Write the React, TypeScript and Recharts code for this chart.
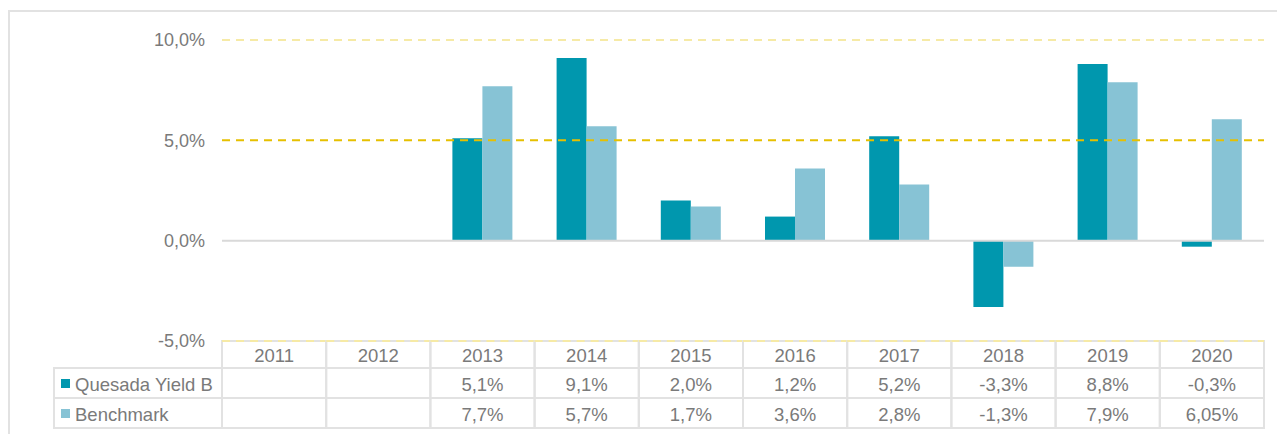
import React from "react";
import { ComposedChart, Bar, XAxis, YAxis, ReferenceLine } from "recharts";

const years = ["2011", "2012", "2013", "2014", "2015", "2016", "2017", "2018", "2019", "2020"];
const quesada: (number | null)[] = [null, null, 5.1, 9.1, 2.0, 1.2, 5.2, -3.3, 8.8, -0.3];
const benchmark: (number | null)[] = [null, null, 7.7, 5.7, 1.7, 3.6, 2.8, -1.3, 7.9, 6.05];
const seriesNames = ["Quesada Yield B", "Benchmark"];
const yTicks = [-5, 0, 5, 10];

const data = years.map((y, i) => ({ year: y, q: quesada[i], b: benchmark[i] }));

const W = 1275;
const H = 424;
const M = { top: 28, right: 21, bottom: 0, left: 0 };
const Y_W = 212;
const PLOT_W = W - Y_W - M.right;
const X_H = 95;

const C_Q = "#0097ae";
const C_B = "#87c3d5";
const GRID = "#e2e2e2";
const TXT = "#7a7a7a";
const FONT = "'Liberation Sans', Arial, sans-serif";

const fmt = (v: number | null) => {
  if (v === null || v === undefined) return "";
  const one = Math.abs(Math.round(v * 10) - v * 10) < 1e-9;
  return (one ? v.toFixed(1) : v.toFixed(2)).replace(".", ",") + "%";
};

const HDR_H = 27;
const ROW_H = 30;

function TableTick(props: any) {
  const { x, y, payload } = props;
  const i = payload.index;
  const cw = PLOT_W / years.length;
  const left = x - cw / 2;
  const top = y;
  const r1 = top + HDR_H;
  const r2 = r1 + ROW_H;
  const LBL_L = 44;
  return (
    <g fontFamily={FONT} fontSize={18.5} fill={TXT}>
      <rect x={left} y={top} width={cw} height={HDR_H + 2 * ROW_H} fill="none" stroke={GRID} strokeWidth={2} />
      <line x1={left} x2={left + cw} y1={r1} y2={r1} stroke={GRID} strokeWidth={2} />
      <line x1={left} x2={left + cw} y1={r2} y2={r2} stroke={GRID} strokeWidth={2} />
      <line x1={left} x2={left + cw} y1={top} y2={top} stroke="#f6eaa6" strokeWidth={2} strokeDasharray="8 6" />
      <text x={x} y={top + HDR_H / 2 + 1} textAnchor="middle" dominantBaseline="central">{payload.value}</text>
      <text x={x} y={r1 + ROW_H / 2 + 1} textAnchor="middle" dominantBaseline="central">{fmt(quesada[i])}</text>
      <text x={x} y={r2 + ROW_H / 2 + 1} textAnchor="middle" dominantBaseline="central">{fmt(benchmark[i])}</text>
      {i === 0 && (
        <g>
          <rect x={LBL_L} y={r1} width={left - LBL_L} height={2 * ROW_H} fill="none" stroke={GRID} strokeWidth={2} />
          <line x1={LBL_L} x2={left} y1={r2} y2={r2} stroke={GRID} strokeWidth={2} />
          <rect x={LBL_L + 7} y={r1 + ROW_H / 2 - 4} width={9} height={9} fill={C_Q} />
          <text x={LBL_L + 21} y={r1 + ROW_H / 2 + 1} dominantBaseline="central">{seriesNames[0]}</text>
          <rect x={LBL_L + 7} y={r2 + ROW_H / 2 - 4} width={9} height={9} fill={C_B} />
          <text x={LBL_L + 21} y={r2 + ROW_H / 2 + 1} dominantBaseline="central">{seriesNames[1]}</text>
        </g>
      )}
    </g>
  );
}

export default function App() {
  return (
    <div style={{ marginTop: 2, border: `2px solid ${GRID}`, width: W, height: 430, background: "#fff" }}>
      <ComposedChart width={W} height={H} data={data} margin={M} barGap={0} barCategoryGap="21%">
        <ReferenceLine y={10} stroke="#f6eaa6" strokeWidth={2} strokeDasharray="8 6" />
        <ReferenceLine y={5} stroke="#e6c000" strokeWidth={2} strokeDasharray="8 6" />
        <XAxis
          dataKey="year"
          type="category"
          interval={0}
          height={X_H}
          axisLine={false}
          tickLine={false}
          tickSize={0}
          tickMargin={0}
          tick={<TableTick />}
        />
        <YAxis
          type="number"
          domain={[-5, 10]}
          ticks={yTicks}
          width={Y_W}
          axisLine={false}
          tickLine={false}
          tickSize={0}
          tickMargin={17}
          tickFormatter={(v: number) => v.toFixed(1).replace(".", ",") + "%"}
          tick={{ fill: TXT, fontSize: 18, fontFamily: FONT }}
        />
        <Bar dataKey="q" fill={C_Q} barSize={30} isAnimationActive={false} />
        <Bar dataKey="b" fill={C_B} barSize={30} isAnimationActive={false} />
        <ReferenceLine y={0} stroke="#d9d9d9" strokeWidth={2} />
      </ComposedChart>
    </div>
  );
}
